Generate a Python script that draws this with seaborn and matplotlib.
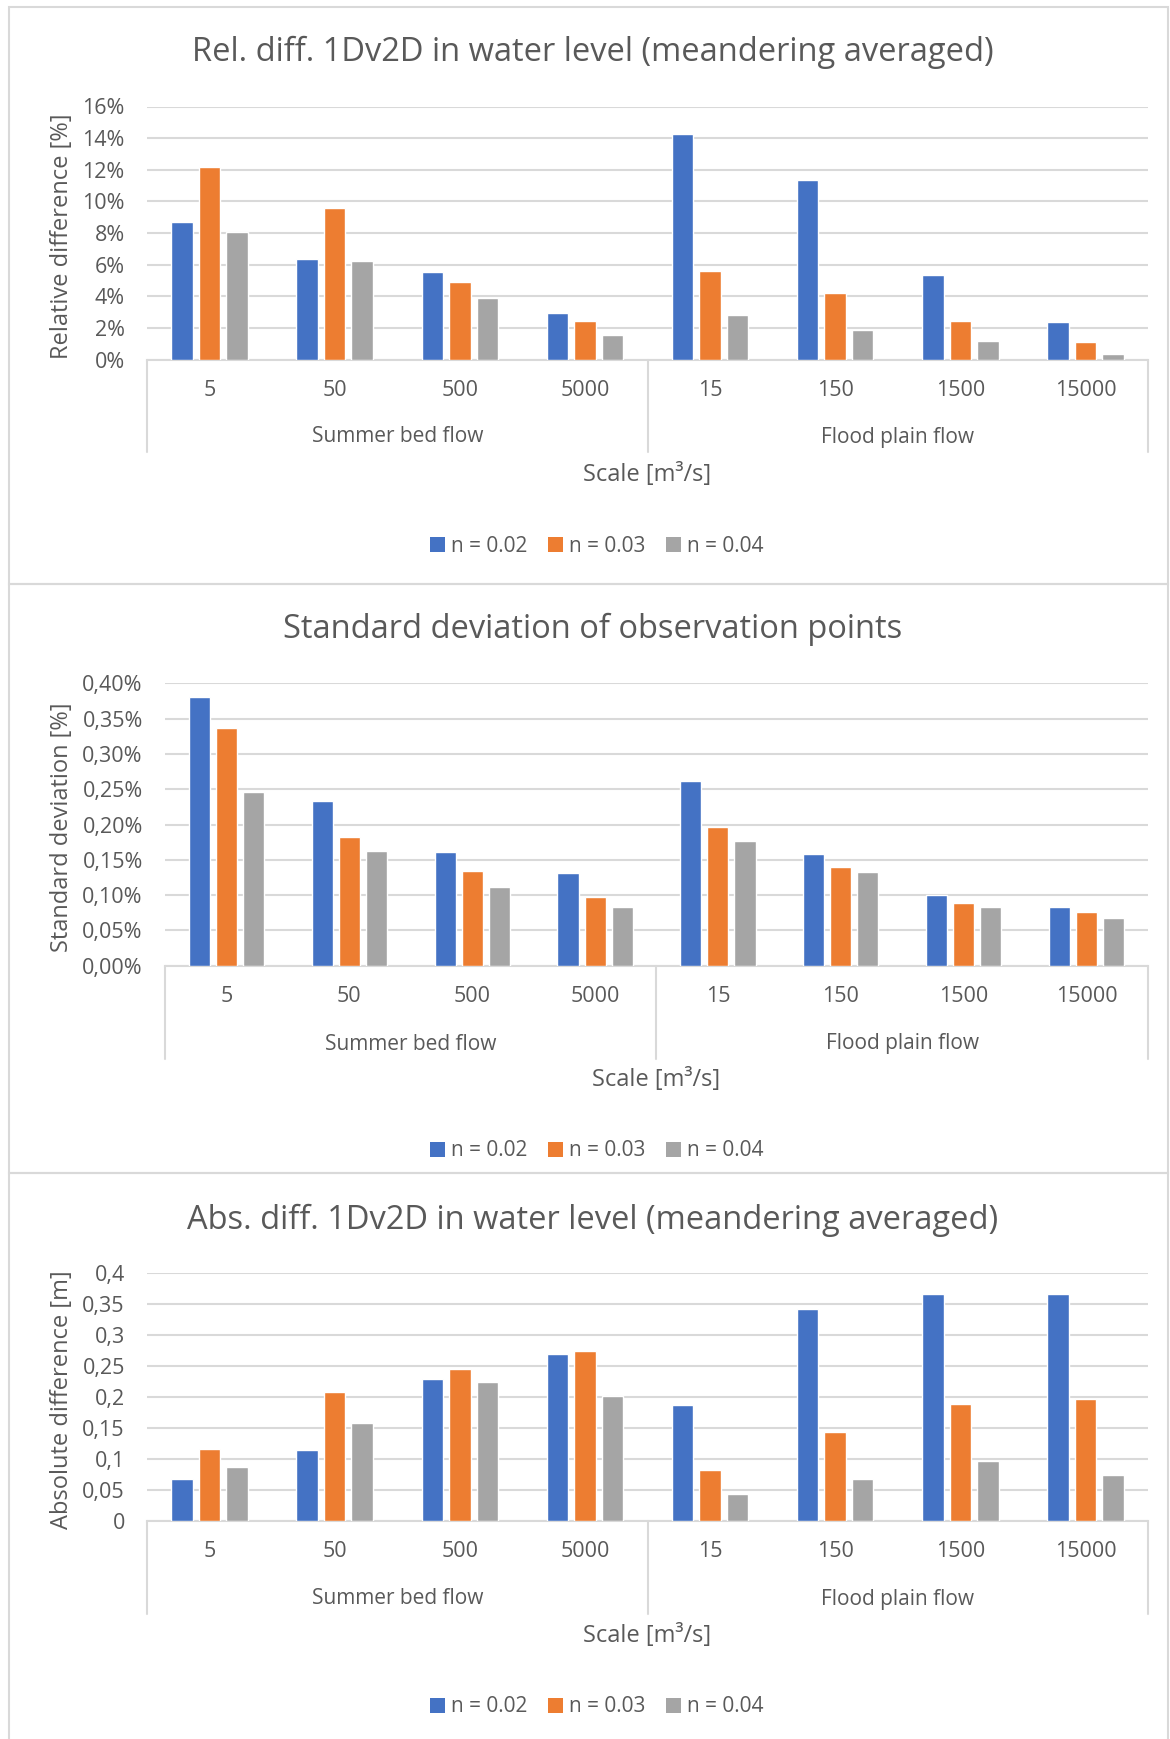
import numpy as np
import pandas as pd
import matplotlib
matplotlib.use("Agg")
import matplotlib.pyplot as plt
import seaborn as sns
from matplotlib.patches import Patch, Rectangle
from matplotlib.lines import Line2D
from matplotlib.transforms import blended_transform_factory
from matplotlib.ticker import FuncFormatter, MultipleLocator

# ---------------- data ----------------
scales = ["5", "50", "500", "5000", "15", "150", "1500", "15000"]
groups = ["Summer bed flow"] * 4 + ["Flood plain flow"] * 4
series = ["n = 0.02", "n = 0.03", "n = 0.04"]
colors = ["#4472C4", "#ED7D31", "#A5A5A5"]

rel_002 = [8.7, 6.35, 5.55, 2.95, 14.25, 11.35, 5.35, 2.4]
rel_003 = [12.2, 9.55, 4.9, 2.45, 5.6, 4.2, 2.45, 1.1]
rel_004 = [8.05, 6.25, 3.9, 1.55, 2.8, 1.85, 1.15, 0.35]

std_002 = [0.381, 0.233, 0.161, 0.132, 0.261, 0.158, 0.100, 0.083]
std_003 = [0.337, 0.183, 0.134, 0.098, 0.196, 0.140, 0.089, 0.076]
std_004 = [0.246, 0.163, 0.112, 0.083, 0.176, 0.133, 0.083, 0.068]

abs_002 = [0.068, 0.114, 0.229, 0.269, 0.188, 0.342, 0.366, 0.366]
abs_003 = [0.116, 0.209, 0.246, 0.274, 0.083, 0.143, 0.189, 0.197]
abs_004 = [0.088, 0.158, 0.225, 0.202, 0.044, 0.068, 0.097, 0.074]

titles = ["Rel. diff. 1Dv2D in water level (meandering averaged)",
          "Standard deviation of observation points",
          "Abs. diff. 1Dv2D in water level (meandering averaged)"]
ylabels = ["Relative difference [%]", "Standard deviation [%]", "Absolute difference [m]"]
xlabel = "Scale [m³/s]"


def long_df(vals):
    rows = []
    for s, v in zip(series, vals):
        for sc, g, y in zip(scales, groups, v):
            rows.append({"scale": sc, "group": g, "n": s, "value": y})
    return pd.DataFrame(rows)


datasets = [long_df([rel_002, rel_003, rel_004]),
            long_df([std_002, std_003, std_004]),
            long_df([abs_002, abs_003, abs_004])]

# ---------------- style ----------------
sns.set_theme(style="white")
FONT = ["Open Sans", "DejaVu Sans"]
plt.rcParams["font.family"] = FONT
TXT = "#595959"
GRID = "#D9D9D9"

W, H = 1170, 1739
fig = plt.figure(figsize=(W / 100, H / 100), dpi=100)
fig.patch.set_facecolor("white")


def fx(p):
    return p / W


def fy(p):
    return 1 - p / H


def fmt_rel(v, pos):
    return f"{v:.0f}%"


def fmt_std(v, pos):
    return f"{v:.2f}%".replace(".", ",")


def fmt_abs(v, pos):
    s = f"{v:.2f}".rstrip("0").rstrip(".")
    return s.replace(".", ",")


panels = [
    dict(left=147, right=1148, top=106.5, bottom=359.5, ymax=16, step=2, fmt=fmt_rel,
         title_y=52, cat_y=391, grp_y=437, sep_b=452, xl_y=475, leg_y=546, frame=(7, 584)),
    dict(left=165, right=1148, top=683.3, bottom=965.7, ymax=0.40, step=0.05, fmt=fmt_std,
         title_y=629, cat_y=997, grp_y=1044, sep_b=1059, xl_y=1080, leg_y=1151, frame=(584, 1173)),
    dict(left=147, right=1148, top=1273.3, bottom=1521, ymax=0.4, step=0.05, fmt=fmt_abs,
         title_y=1220, cat_y=1552, grp_y=1599, sep_b=1614, xl_y=1636, leg_y=1707, frame=(1173, 1745)),
]

TICK_FS = 15.5
for i, (p, df) in enumerate(zip(panels, datasets)):
    # panel frame
    fig.add_artist(Rectangle((fx(9), fy(p["frame"][1])), fx(1168) - fx(9),
                             fy(p["frame"][0]) - fy(p["frame"][1]),
                             transform=fig.transFigure, fill=False,
                             edgecolor="#D9D9D9", linewidth=1.5, zorder=0))

    ax = fig.add_axes([fx(p["left"]), fy(p["bottom"]),
                       fx(p["right"]) - fx(p["left"]), fy(p["top"]) - fy(p["bottom"])])
    sns.barplot(data=df, x="scale", y="value", hue="n", order=scales, hue_order=series,
                palette=colors, width=0.66, gap=0.22, saturation=1, errorbar=None,
                legend=False, ax=ax, zorder=3)
    ax.set_xlim(-0.5, len(scales) - 0.5)
    ax.set_ylim(0, p["ymax"])
    ax.yaxis.set_major_locator(MultipleLocator(p["step"]))
    ax.yaxis.set_major_formatter(FuncFormatter(p["fmt"]))
    ax.grid(axis="y", color=GRID, linewidth=1.5, zorder=0)
    ax.set_axisbelow(True)
    for s in ["top", "right", "left"]:
        ax.spines[s].set_visible(False)
    ax.spines["bottom"].set_color(GRID)
    ax.spines["bottom"].set_linewidth(1.5)
    ax.tick_params(axis="y", length=0, pad=16, labelsize=TICK_FS, labelcolor=TXT)
    ax.tick_params(axis="x", length=0, pad=(p["cat_y"] - p["bottom"]) * 0.72 - 8,
                   labelsize=TICK_FS, labelcolor=TXT)
    ax.set_xlabel("")
    ax.set_ylabel("")

    # y label
    fig.text(fx(62), fy((p["top"] + p["bottom"]) / 2 + 3), ylabels[i], rotation=90,
             ha="center", va="center", fontsize=17, color=TXT)
    # title
    fig.text(fx(593), fy(p["title_y"]), titles[i], ha="center", va="center",
             fontsize=23.5, color=TXT)

    # multilevel category axis
    tr = blended_transform_factory(ax.transData, fig.transFigure)
    bounds = [-0.5, 3.5, len(scales) - 0.5]
    for b in bounds:
        fig.add_artist(Line2D([b, b], [fy(p["bottom"]), fy(p["sep_b"])], transform=tr,
                              color=GRID, linewidth=1.5, clip_on=False))
    for g in dict.fromkeys(groups):
        idx = [k for k, gg in enumerate(groups) if gg == g]
        fig.text(np.mean(idx), fy(p["grp_y"]), g, transform=tr, ha="center",
                 va="center", fontsize=15, color=TXT)

    # x label
    fig.text((fx(p["left"]) + fx(p["right"])) / 2, fy(p["xl_y"]), xlabel,
             ha="center", va="center", fontsize=17, color=TXT)

    # legend
    handles = [Patch(facecolor=c, edgecolor="none", label=s) for c, s in zip(colors, series)]
    fig.legend(handles=handles, loc="center", bbox_to_anchor=(fx(597), fy(p["leg_y"])),
               ncol=3, frameon=False, fontsize=15, labelcolor=TXT,
               handlelength=0.7, handleheight=0.7, handletextpad=0.3,
               columnspacing=1.0)

fig.savefig("out.png", dpi=100, facecolor="white")
